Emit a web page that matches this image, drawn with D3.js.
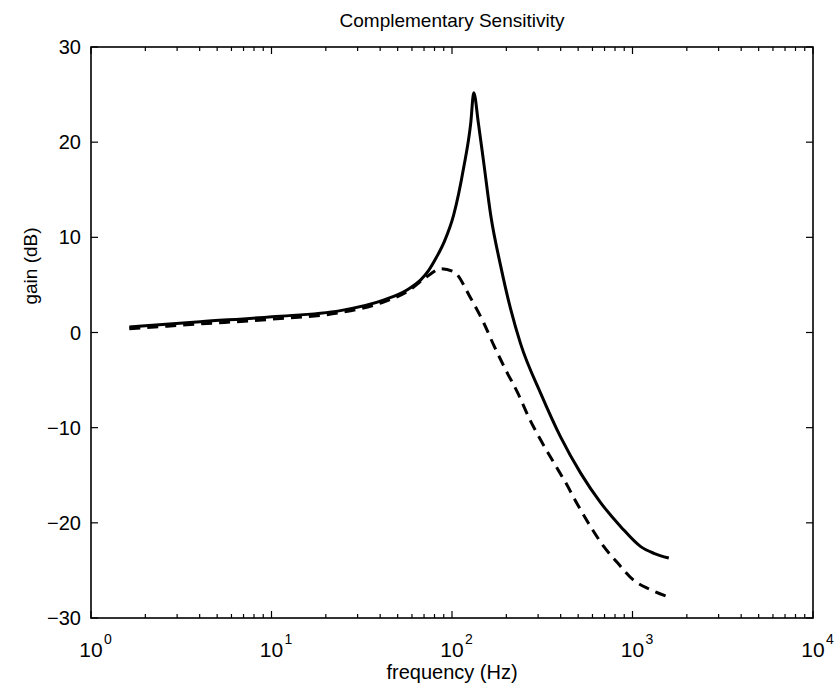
<!DOCTYPE html>
<html>
<head>
<meta charset="utf-8">
<script src="https://cdn.jsdelivr.net/npm/d3@7"></script>
<style>
  body { margin: 0; background: #fff; }
  svg { display: block; font-family: 'Liberation Sans', Arial, sans-serif; }
</style>
</head>
<body>
<svg id="chart" width="836" height="700"></svg>
<script>
// values (frequency in Hz, gain in dB)
const solidFreq = [1.63, 4.03, 10.1, 24.1, 41.7, 56.6, 66.9, 74.1, 82.0, 90.9, 102, 116, 127, 132, 140, 150, 164, 186, 211, 240, 310, 400, 517, 667, 861, 1111, 1313, 1589];
const solidGain = [0.58, 1.13, 1.66, 2.3, 3.4, 4.5, 5.5, 6.5, 7.9, 9.6, 12.3, 17.3, 22.0, 25.2, 22.0, 17.8, 12.3, 7.0, 2.5, -1.2, -6.4, -11.0, -14.8, -17.9, -20.4, -22.5, -23.2, -23.7];

const dashFreq = [1.63, 4.03, 10.1, 24.1, 41.7, 56.6, 74.1, 86.4, 102, 127, 150, 170, 198, 232, 266, 310, 367, 427, 497, 586, 694, 826, 1010, 1250, 1589];
const dashGain = [0.4, 0.9, 1.4, 2.1, 3.2, 4.3, 6.0, 6.7, 6.4, 3.6, 1.0, -1.3, -3.9, -6.4, -8.9, -11.3, -13.7, -15.8, -18.1, -20.4, -22.5, -24.2, -26.0, -27.0, -27.8];

const xDecades = [0, 1, 2, 3, 4];
const yTicks = [-30, -20, -10, 0, 10, 20, 30];

const svg = d3.select('#chart');
const margin = {left: 91, right: 23, top: 47, bottom: 82};
const width = 836 - margin.left - margin.right;
const height = 700 - margin.top - margin.bottom;

const x = d3.scaleLog().domain([1, 10000]).range([0, width]);
const y = d3.scaleLinear().domain([-30, 30]).range([height, 0]);

const g = svg.append('g')
    .attr('transform', `translate(${margin.left},${margin.top})`);

// minor log ticks 2..9 in each decade
const minorTicks = [];
xDecades.slice(0, -1).forEach((d) => {
  for (let k = 2; k <= 9; k++) minorTicks.push(k * Math.pow(10, d));
});
const majorTicks = xDecades.map((d) => Math.pow(10, d));

const ticks = g.append('g').attr('stroke', '#000').attr('stroke-width', 1.2);
minorTicks.forEach((v) => {
  ticks.append('line').attr('x1', x(v)).attr('x2', x(v)).attr('y1', height).attr('y2', height - 4);
  ticks.append('line').attr('x1', x(v)).attr('x2', x(v)).attr('y1', 0).attr('y2', 4);
});
majorTicks.forEach((v) => {
  ticks.append('line').attr('x1', x(v)).attr('x2', x(v)).attr('y1', height).attr('y2', height - 7);
  ticks.append('line').attr('x1', x(v)).attr('x2', x(v)).attr('y1', 0).attr('y2', 7);
});
yTicks.forEach((v) => {
  ticks.append('line').attr('x1', 0).attr('x2', 7).attr('y1', y(v)).attr('y2', y(v));
  ticks.append('line').attr('x1', width).attr('x2', width - 7).attr('y1', y(v)).attr('y2', y(v));
});

// box
g.append('rect')
    .attr('width', width)
    .attr('height', height)
    .attr('fill', 'none')
    .attr('stroke', '#000')
    .attr('stroke-width', 1.6);

// y tick labels
g.selectAll('text.ylab')
    .data(yTicks)
    .enter()
    .append('text')
    .classed('ylab', true)
    .attr('x', -10)
    .attr('y', (d) => y(d))
    .attr('dy', '0.35em')
    .attr('text-anchor', 'end')
    .style('font-size', '20px')
    .text((d) => d < 0 ? '\u2212' + Math.abs(d) : d);

// x tick labels: 10 with superscript exponent
const xl = g.selectAll('g.xlab')
    .data(xDecades)
    .enter()
    .append('g')
    .classed('xlab', true)
    .attr('transform', (d) => `translate(${x(Math.pow(10, d))},${height + 39})`);
xl.append('text')
    .attr('text-anchor', 'middle')
    .style('font-size', '21px')
    .text('10');
xl.append('text')
    .attr('x', 13)
    .attr('y', -13)
    .style('font-size', '14px')
    .text((d) => d);

// lines
const line = d3.line()
    .x((d) => x(d[0]))
    .y((d) => y(d[1]))
    .curve(d3.curveMonotoneX);

g.append('path')
    .datum(d3.zip(solidFreq, solidGain))
    .attr('d', line)
    .attr('fill', 'none')
    .attr('stroke', '#000')
    .attr('stroke-width', 3);

g.append('path')
    .datum(d3.zip(dashFreq, dashGain))
    .attr('d', line)
    .attr('fill', 'none')
    .attr('stroke', '#000')
    .attr('stroke-width', 3)
    .attr('stroke-dasharray', '11,7');

// titles
svg.append('text')
    .attr('x', margin.left + width / 2)
    .attr('y', 27)
    .attr('text-anchor', 'middle')
    .style('font-size', '19px')
    .text('Complementary Sensitivity');

svg.append('text')
    .attr('x', margin.left + width / 2)
    .attr('y', 679)
    .attr('text-anchor', 'middle')
    .style('font-size', '20px')
    .text('frequency (Hz)');

svg.append('text')
    .attr('transform', 'translate(37,266) rotate(-90)')
    .attr('text-anchor', 'middle')
    .style('font-size', '19px')
    .text('gain (dB)');
</script>
</body>
</html>
